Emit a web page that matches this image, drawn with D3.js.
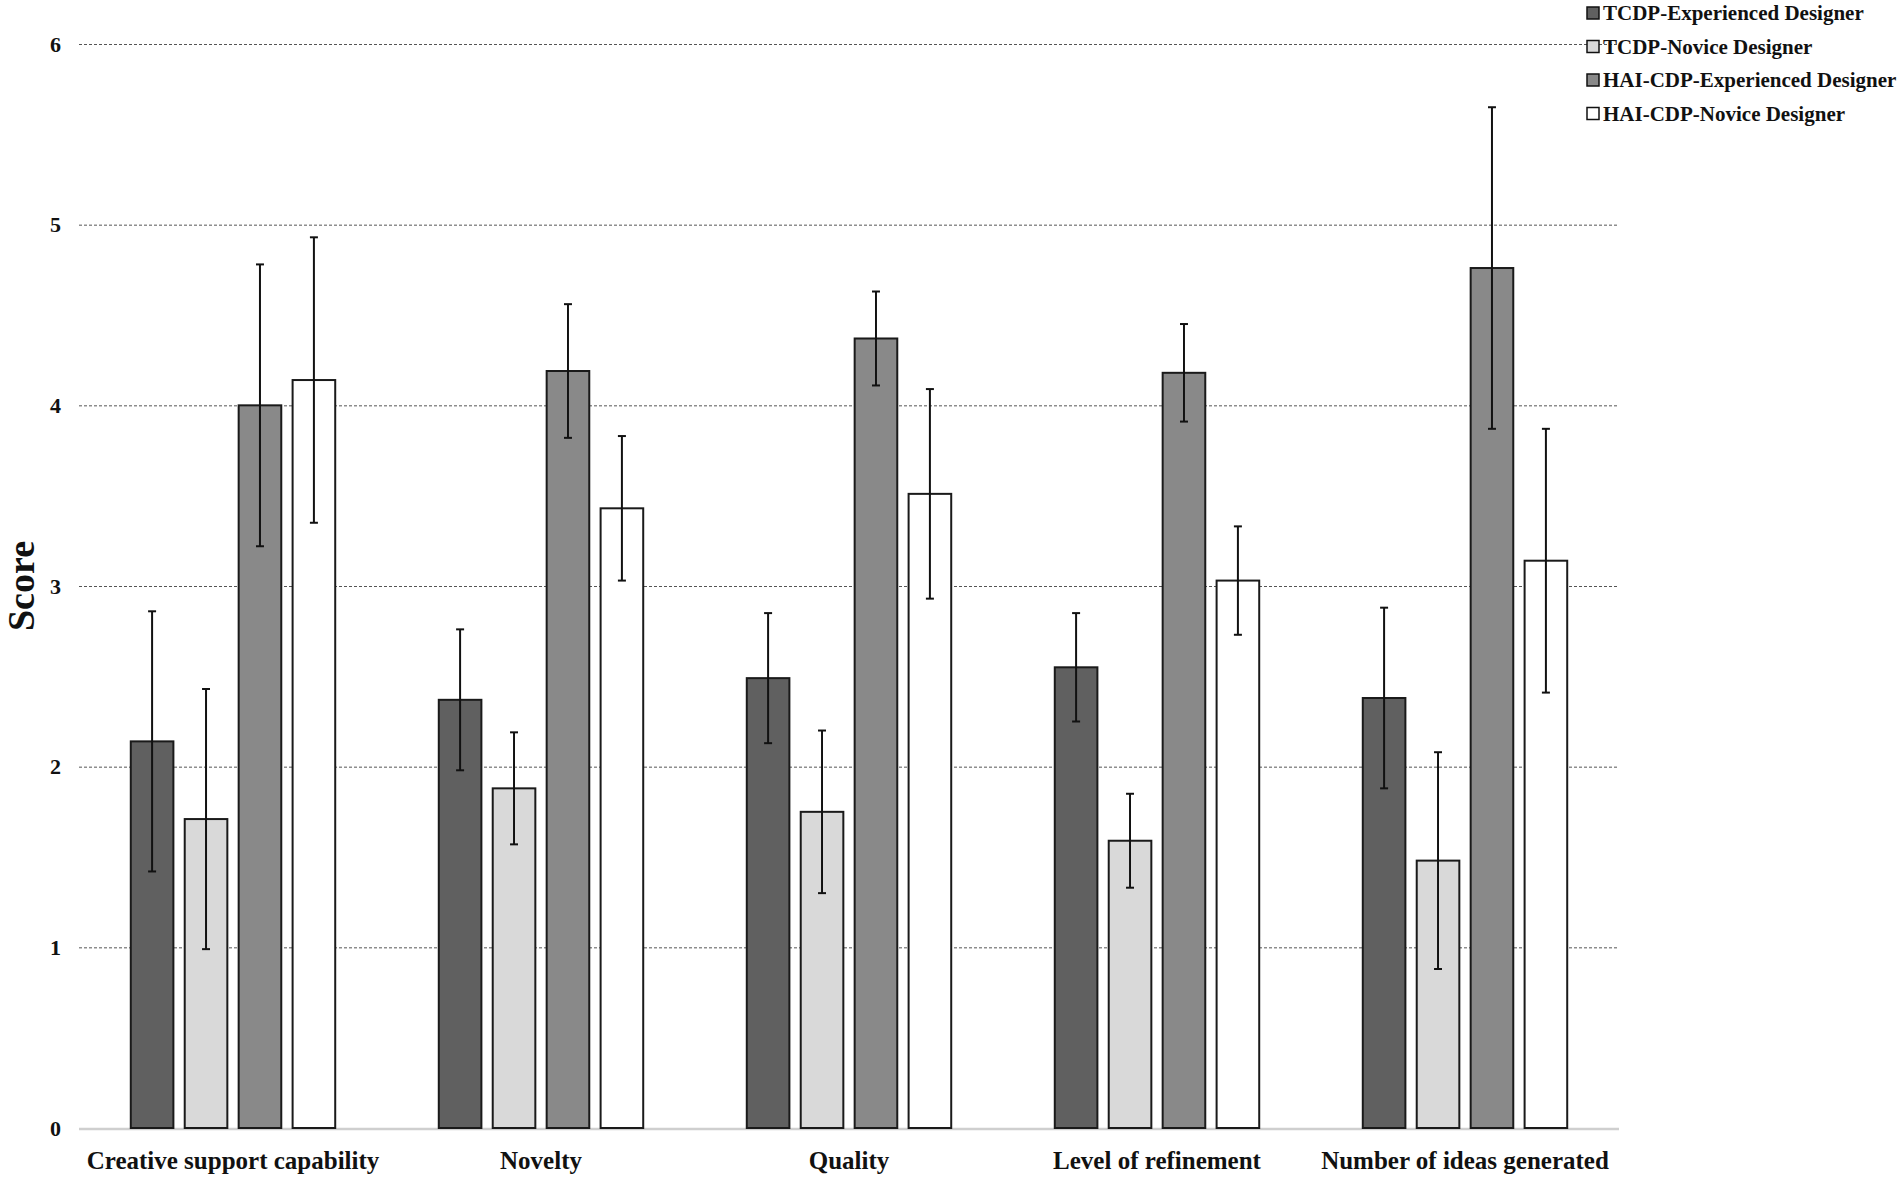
<!DOCTYPE html>
<html>
<head>
<meta charset="utf-8">
<title>Score bars</title>
<script src="https://cdn.jsdelivr.net/npm/d3@7"></script>
<style>
  body { margin: 0; background: #fff; }
  text { font-family: "Liberation Serif", "Times New Roman", serif; font-weight: bold; fill: #111; }
  .grid line { stroke: #555; stroke-dasharray: 3,2; stroke-width: 1; }
  .grid path { display: none; }
</style>
</head>
<body>
<script>
// data
var categories = ["Creative support capability", "Novelty", "Quality", "Level of refinement", "Number of ideas generated"];
var seriesNames = ["TCDP-Experienced Designer", "TCDP-Novice Designer", "HAI-CDP-Experienced Designer", "HAI-CDP-Novice Designer"];
var seriesColors = ["#606060", "#d9d9d9", "#898989", "#ffffff"];
var means = [
  [2.14, 2.37, 2.49, 2.55, 2.38],
  [1.71, 1.88, 1.75, 1.59, 1.48],
  [4.00, 4.19, 4.37, 4.18, 4.76],
  [4.14, 3.43, 3.51, 3.03, 3.14]
];
var errors = [
  [0.72, 0.39, 0.36, 0.30, 0.50],
  [0.72, 0.31, 0.45, 0.26, 0.60],
  [0.78, 0.37, 0.26, 0.27, 0.89],
  [0.79, 0.40, 0.58, 0.30, 0.73]
];
var yTicks = [0, 1, 2, 3, 4, 5, 6];

var w = 1901, h = 1179;
var plotLeft = 79, plotRight = 1619, plotTop = 44, plotBottom = 1128;

var svg = d3.select("body").append("svg").attr("width", w).attr("height", h);

var x0 = d3.scaleBand().domain(categories).range([plotLeft, plotRight]);
var x1 = d3.scaleBand().domain(seriesNames).range([0, x0.bandwidth()])
  .paddingInner(0.21).paddingOuter(0.96);
var y = d3.scaleLinear().domain([0, 6]).range([plotBottom, plotTop]);

// gridlines
svg.append("g")
  .attr("class", "grid")
  .attr("transform", "translate(" + plotLeft + ",0)")
  .call(d3.axisLeft(y).tickValues(yTicks.slice(1)).tickSize(-(plotRight - plotLeft)).tickFormat(""));

// zero line
svg.append("line")
  .attr("x1", plotLeft).attr("x2", plotRight)
  .attr("y1", y(0) + 1).attr("y2", y(0) + 1)
  .attr("stroke", "#cfcfcf").attr("stroke-width", 2.5);

// y tick labels
var yAxis = svg.append("g")
  .attr("transform", "translate(61,0)")
  .call(d3.axisLeft(y).tickValues(yTicks).tickSize(0).tickPadding(0).tickFormat(d3.format("d")));
yAxis.select(".domain").remove();
yAxis.selectAll("text").style("font-size", "22px").style("font-family", "Liberation Serif").style("font-weight", "bold").attr("fill", "#111");

// y title
svg.append("text")
  .attr("transform", "translate(34," + ((plotTop + plotBottom) / 2) + ") rotate(-90)")
  .attr("text-anchor", "middle")
  .style("font-size", "38px")
  .text("Score");

// bars
var rows = [];
seriesNames.forEach(function(s, i) {
  categories.forEach(function(c, j) {
    rows.push({ s: s, i: i, c: c, v: means[i][j], e: errors[i][j] });
  });
});

svg.selectAll("rect.bar")
  .data(rows)
  .enter()
  .append("rect")
  .attr("class", "bar")
  .attr("x", function(d) { return x0(d.c) + x1(d.s); })
  .attr("y", function(d) { return y(d.v); })
  .attr("width", x1.bandwidth())
  .attr("height", function(d) { return y(0) - y(d.v); })
  .attr("fill", function(d) { return seriesColors[d.i]; })
  .attr("stroke", "#1a1a1a")
  .attr("stroke-width", 2);

// error bars
var cap = 4;
var eb = svg.selectAll("g.err")
  .data(rows)
  .enter()
  .append("g")
  .attr("class", "err")
  .attr("stroke", "#111")
  .attr("stroke-width", 2);
eb.append("line")
  .attr("x1", function(d) { return x0(d.c) + x1(d.s) + x1.bandwidth() / 2; })
  .attr("x2", function(d) { return x0(d.c) + x1(d.s) + x1.bandwidth() / 2; })
  .attr("y1", function(d) { return y(d.v + d.e); })
  .attr("y2", function(d) { return y(d.v - d.e); });
[1, -1].forEach(function(sg) {
  eb.append("line")
    .attr("x1", function(d) { return x0(d.c) + x1(d.s) + x1.bandwidth() / 2 - cap; })
    .attr("x2", function(d) { return x0(d.c) + x1(d.s) + x1.bandwidth() / 2 + cap; })
    .attr("y1", function(d) { return y(d.v + sg * d.e); })
    .attr("y2", function(d) { return y(d.v + sg * d.e); });
});

// x labels
var xAxis = svg.append("g")
  .attr("transform", "translate(0," + plotBottom + ")")
  .call(d3.axisBottom(x0).tickSize(0).tickPadding(23));
xAxis.select(".domain").remove();
xAxis.selectAll("text").style("font-size", "25px").style("font-family", "Liberation Serif").style("font-weight", "bold").attr("fill", "#111");

// legend
var legend = svg.selectAll("g.leg")
  .data(seriesNames)
  .enter()
  .append("g")
  .attr("class", "leg")
  .attr("transform", function(d, i) { return "translate(1587," + (13 + i * 33.5) + ")"; });
legend.append("rect")
  .attr("x", 0).attr("y", -6)
  .attr("width", 12).attr("height", 12)
  .attr("fill", function(d, i) { return seriesColors[i]; })
  .attr("stroke", "#111").attr("stroke-width", 1.5);
legend.append("text")
  .attr("x", 16).attr("dy", "0.35em")
  .style("font-size", "21px")
  .text(function(d) { return d; });
</script>
</body>
</html>
